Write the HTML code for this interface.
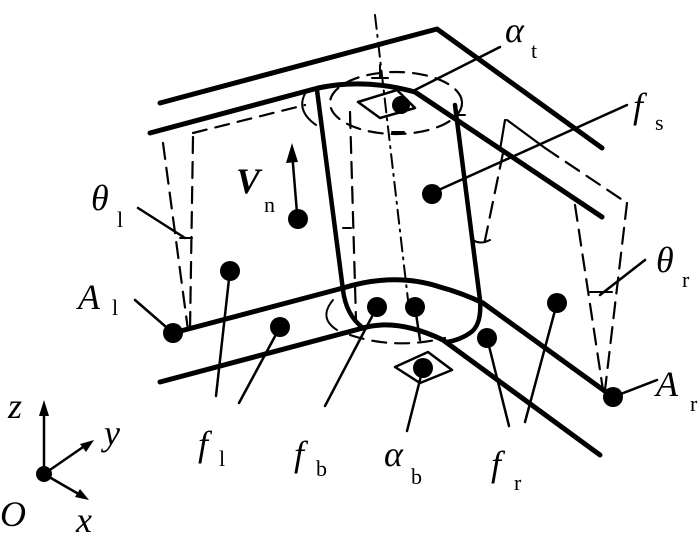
<!DOCTYPE html>
<html><head><meta charset="utf-8"><style>
html,body{margin:0;padding:0;background:#fff;}
svg{display:block;}
text{font-family:"Liberation Serif",serif;fill:#000;}
.m{font-style:italic;font-size:36px;}
.s{font-size:22px;}
</style></head><body>
<svg width="700" height="541" viewBox="0 0 700 541" xmlns="http://www.w3.org/2000/svg">
<g fill="none" stroke="#000" stroke-linecap="round" stroke-linejoin="round">
<!-- thick structure lines -->
<path d="M160,103 L437,29 L602,148" stroke-width="5"/>
<path d="M150,133 L318,88 Q365,78 415,92 L602,217" stroke-width="5"/>
<path d="M173,333 L343,288 Q395,272 440,287 Q462,293 483,303 L613,397" stroke-width="5"/>
<path d="M160,382 L363,328 Q397,318 443,340 L600,455" stroke-width="5"/>
<!-- cylinder sides -->
<path d="M317,90 L343,290 Q346,315 363,328" stroke-width="4.5"/>
<path d="M455,105 L480,300 Q482,325 470,333 Q460,340 447,342" stroke-width="4.5"/>
<path d="M306,92 Q295,110 316,125" stroke-width="2"/>
<path d="M333,300 Q318,318 337,330" stroke-width="2"/>
<!-- dashed ellipses -->
<ellipse cx="396" cy="103" rx="66" ry="31" stroke-width="2.2" stroke-dasharray="14,9"/>
<path d="M350,335 Q395,350 445,338" stroke-width="2.2" stroke-dasharray="14,9"/>
<!-- cross ticks -->
<path d="M380,65 L380,78 M372,78 L388,78 M350,112 L350,122 M392,132 L404,132 M455,115 L465,115" stroke-width="2"/>
<!-- centre axis -->
<path d="M375,15 L408,300" stroke-width="2" stroke-dasharray="14,6,2,6"/>
<!-- dashed outlines -->
<path d="M193,133 L305,105" stroke-width="2.2" stroke-dasharray="14,9"/>
<path d="M163,143 L188,330 M193,137 L190,330" stroke-width="2.2" stroke-dasharray="16,9"/>
<path d="M180,238 L192,238" stroke-width="2"/>
<path d="M350,112 L356,320 M503,153 L483,250" stroke-width="2.2" stroke-dasharray="16,9"/>
<path d="M343,228 L351,228 M473,240 Q480,245 490,240" stroke-width="2"/>
<path d="M505,120 L500,150 M507,120 L545,148" stroke-width="2.2"/>
<path d="M545,148 L627,203" stroke-width="2.2" stroke-dasharray="16,9"/>
<path d="M575,205 L603,390 M627,203 L605,390" stroke-width="2.2" stroke-dasharray="16,9"/>
<path d="M590,292 L612,292" stroke-width="2"/>
<!-- diamonds -->
<path d="M358,102 L397,90 L415,108 L380,118 Z" stroke-width="2.5"/>
<path d="M395,367 L428,352 L452,370 L420,383 Z" stroke-width="2.5"/>
<!-- leaders -->
<path d="M415,90 L500,47 M432,193 L627,105 M230,270 L216,396 M280,327 L239,403 M377,307 L325,406 M415,307 L420,340 M423,368 L407,431 M487,338 L509,426 M557,303 L525,422 M173,333 L135,300 M613,397 L657,380 M138,208 L185,238 M645,260 L600,295" stroke-width="2.5"/>
<!-- V_n arrow -->
<path d="M297,213 L292,152" stroke-width="2.5"/>
<!-- axes -->
<path d="M44,474 L44,410 M44,474 L86,445 M44,474 L82,496" stroke-width="2.5"/>
</g>
<g fill="#000">
<circle cx="401" cy="105" r="9"/>
<circle cx="432" cy="194" r="10"/>
<circle cx="298" cy="219" r="10"/>
<circle cx="230" cy="271" r="10"/>
<circle cx="280" cy="327" r="10"/>
<circle cx="377" cy="307" r="10"/>
<circle cx="415" cy="307" r="10"/>
<circle cx="423" cy="368" r="10"/>
<circle cx="487" cy="338" r="10"/>
<circle cx="557" cy="303" r="10"/>
<circle cx="173" cy="333" r="10"/>
<circle cx="613" cy="397" r="10"/>
<circle cx="44" cy="474" r="8"/>
<path d="M292,143 L286,163 L298,162 Z"/>
<path d="M44,400 L39,416 L49,416 Z"/>
<path d="M94,440 L80,444 L86,452 Z"/>
<path d="M89,500 L75,497 L80,489 Z"/>
</g>
<text class="m" x="505" y="42">α</text><text class="s" x="531" y="58">t</text>
<text class="m" x="633" y="118">f</text><text class="s" x="655" y="130">s</text>
<text class="m" x="236" y="193" style="font-weight:bold">V</text><text class="s" x="264" y="212">n</text>
<text class="m" x="91" y="210">θ</text><text class="s" x="117" y="227">l</text>
<text class="m" x="78" y="309">A</text><text class="s" x="112" y="315">l</text>
<text class="m" x="656" y="272">θ</text><text class="s" x="682" y="287">r</text>
<text class="m" x="656" y="396">A</text><text class="s" x="690" y="411">r</text>
<text class="m" x="198" y="456">f</text><text class="s" x="219" y="466">l</text>
<text class="m" x="294" y="466">f</text><text class="s" x="316" y="476">b</text>
<text class="m" x="384" y="466">α</text><text class="s" x="411" y="484">b</text>
<text class="m" x="491" y="476">f</text><text class="s" x="514" y="490">r</text>
<text class="m" x="8" y="418">z</text>
<text class="m" x="104" y="445">y</text>
<text class="m" x="76" y="532">x</text>
<text class="m" x="0" y="526">O</text>
</svg>
</body></html>
